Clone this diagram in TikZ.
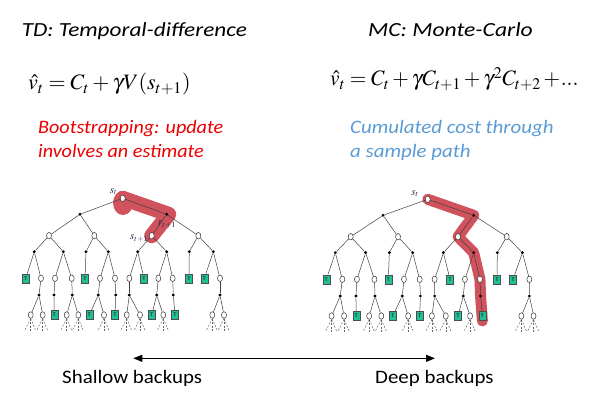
\documentclass[tikz,border=0pt]{standalone}
\usepackage{graphicx}
\usepackage{mathptmx}
\usepackage[no-math]{fontspec}
\setmainfont{Carlito}
\usetikzlibrary{arrows.meta,backgrounds,shapes.geometric}
\definecolor{hl}{RGB}{207,82,92}
\definecolor{tgreen}{RGB}{32,192,150}
\definecolor{redtxt}{RGB}{235,0,0}
\definecolor{bluetxt}{RGB}{91,155,213}
\definecolor{lblc}{RGB}{40,40,80}
\newcommand\sx[2]{\scalebox{#1}[1]{#2}}
\tikzset{
  st/.style={ellipse, draw=black!80, fill=white, line width=0.5pt, minimum width=5pt, minimum height=6.5pt, inner sep=0pt},
  act/.style={circle, fill=black, inner sep=0pt, minimum size=3.2pt},
  tt/.style={rectangle, draw=black!70, line width=0.4pt, fill=tgreen, minimum width=7pt, minimum height=9pt, inner sep=0pt, font=\bfseries\fontsize{5.5}{5.5}\selectfont, text=black!85},
  edge/.style={draw=black!75, line width=0.5pt},
  dsh/.style={draw=black!60, line width=0.5pt, dash pattern=on 2pt off 1.5pt},
  ttl/.style={anchor=base west, inner sep=0pt, font=\itshape\fontsize{20}{24}\selectfont},
  cmt/.style={anchor=base west, inner sep=0pt, font=\itshape\fontsize{19}{23}\selectfont},
  plain/.style={anchor=base west, inner sep=0pt, font=\fontsize{19}{23}\selectfont},
  fm/.style={anchor=base west, inner sep=0pt, font=\fontsize{22}{26}\selectfont},
  lbl/.style={inner sep=0pt, text=lblc, font=\fontsize{11}{11}\selectfont},
  hlpath/.style={draw=hl, line cap=round, line join=round},
}
\newcommand\mytree[1]{%
  \node[st] (#1-r) at (122.7,198.3) {};
  \foreach \n/\x in {a1/80,a2/166.7}
    {\node[act] (#1-\n) at (\x,214.3) {}; \draw[edge] (#1-r) -- (#1-\n);}
  \foreach \n/\x/\p in {s1/49/a1,s2/94.3/a1,s3/151.7/a2,s4/198.3/a2}
    {\node[st] (#1-\n) at (\x,235.7) {}; \draw[edge] (#1-\p) -- (#1-\n);}
  \foreach \n/\x/\p in {b1/34.3/s1,b2/63.3/s1,b3/86/s2,b4/108.3/s2,b5/137.7/s3,b6/166.7/s3,b7/189.3/s4,b8/213.3/s4}
    {\node[act] (#1-\n) at (\x,251.7) {}; \draw[edge] (#1-\p) -- (#1-\n);}
  \foreach \n/\x/\p in {c2/41/b1,c3/55/b2,c4/71.7/b2,c6/100/b4,c7/115/b4,c8/129.3/b5,c10/158.3/b6,c11/172.7/b6,c14/220/b8}
    {\node[st] (#1-\n) at (\x,278.3) {}; \draw[edge] (#1-\p) -- (#1-\n);}
  \foreach \n/\x/\p in {c1/25.7/b1,c5/85/b3,c9/144/b5,c12/189/b7,c13/204.3/b8}
    {\node[tt] (#1-\n) at (\x,278.3) {T}; \draw[edge] (#1-\p) -- (#1-\n);}
  \foreach \n/\x/\p in {d1/39/c2,d2/54/c3,d3/72.3/c4,d4/98.3/c6,d5/115.7/c7,d6/129.3/c8,d7/156.7/c10,d8/173.3/c11,d9/220/c14}
    {\node[act] (#1-\n) at (\x,295) {}; \draw[edge] (#1-\p) -- (#1-\n);}
  \foreach \n/\x/\p in {e1/30.7/d1,e2/42.7/d1,e4/66.7/d3,e5/78.3/d3,e7/104/d4,e9/126.7/d6,e10/140/d6,e12/163.3/d7,e14/212.3/d9,e15/224/d9}
    {\node[st] (#1-\n) at (\x,315) {}; \draw[edge] (#1-\p) -- (#1-\n);
     \draw[dsh] (#1-\n.south) -- ++(-6,12);
     \draw[dsh] (#1-\n.south) -- ++(0,13);
     \draw[dsh] (#1-\n.south) -- ++(5,12);}
  \foreach \n/\x/\p in {e3/54.3/d2,e6/89.3/d4,e8/115/d5,e11/151.7/d7,e13/175/d8}
    {\node[tt] (#1-\n) at (\x,315) {T}; \draw[edge] (#1-\p) -- (#1-\n);}
}
\begin{document}
\begin{tikzpicture}[x=1pt,y=-1pt]
\useasboundingbox (0,0) rectangle (602,406);
% titles
\node[ttl] (t1) at (21.7,36.7) {\sx{1.16}{TD: Temporal-difference}};
\node[ttl] (t2) at (368,37) {\sx{1.18}{MC: Monte-Carlo}};
% formulas
\node[fm] (f1) at (28,90) {$\hat{v}_t = C_t + \gamma V(s_{t+1})$};
\node[fm] (f2) at (330,86) {\sx{0.97}{$\hat{v}_t = C_t + \gamma C_{t+1} + \gamma^2 C_{t+2} +\!{.}{.}{.}$}};
% comments
\node[cmt, text=redtxt] (r1) at (38,133.3) {\sx{1.06}{Bootstrapping: update}};
\node[cmt, text=redtxt] (r2) at (38,157.5) {\sx{1.06}{involves an estimate}};
\node[cmt, text=bluetxt] (b1) at (350,133.3) {\sx{1.1}{Cumulated cost through}};
\node[cmt, text=bluetxt] (b2) at (350,157.5) {\sx{1.1}{a sample path}};
% trees
\mytree{L}
\begin{scope}[shift={(427.7,1)}, xscale=1.045, shift={(-122.7,0)}]
\mytree{R}
\end{scope}
% highlights
\begin{scope}[on background layer]
\fill[hl] (123,203) ellipse (10pt and 12pt);
\draw[hlpath, line width=15pt] (L-r.center) -- ([xshift=2pt]L-a2.center) -- (L-s3.center);
\draw[hlpath, line width=11pt] (R-r.center) -- (R-a2.center) -- (R-s3.center) -- (R-b6.center) -- (R-c11.center) -- (R-d8.center) -- ([yshift=-5pt]R-e13.center);
\end{scope}
% tree labels
\node[lbl] (L-lst) at (113.5,191.5) {$s_t$};
\node[lbl] (L-lr) at (167,224.5) {$r_{t+1}$};
\node[lbl] (L-ls) at (139,238.5) {$s_{t+1}$};
\node[lbl] (R-lst) at (415,193.5) {$s_t$};
% bottom
\coordinate (arL) at (133.3,358.3);
\coordinate (arR) at (435,358.3);
\draw[{Triangle[length=9pt,width=7pt]}-{Triangle[length=9pt,width=7pt]}, line width=0.8pt] (arL) -- (arR);
\node[plain] (sb) at (62,383.3) {\sx{1.1}{Shallow backups}};
\node[plain] (db) at (375,383.3) {\sx{1.1}{Deep backups}};
\end{tikzpicture}
\end{document}
